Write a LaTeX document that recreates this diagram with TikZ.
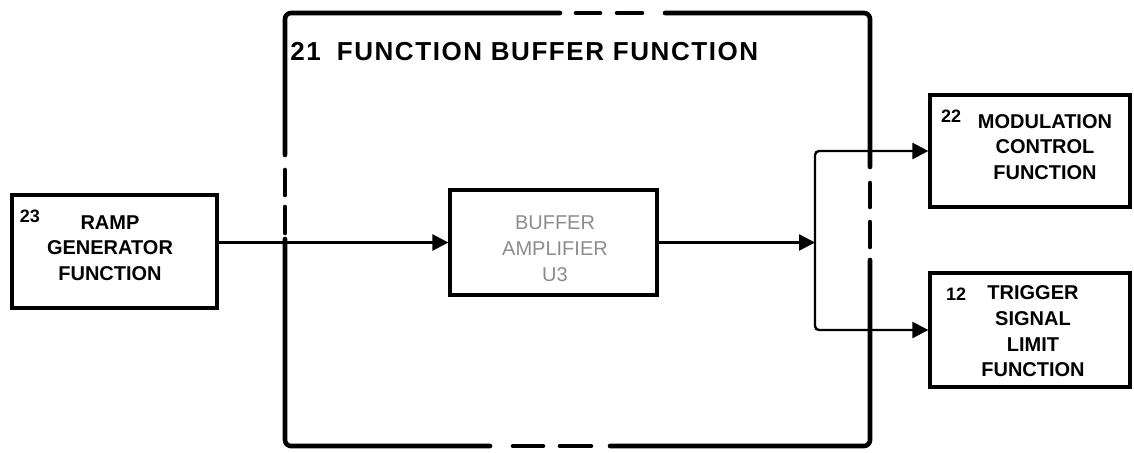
\documentclass[tikz,border=0pt]{standalone}
\usepackage{fontspec}
\setmainfont{Liberation Sans}
\usetikzlibrary{arrows.meta,positioning}
\tikzset{
  block/.style={draw=black, line width=1.6pt, inner sep=0pt},
  blocktext/.style={align=center, inner sep=0pt, font=\bfseries\fontsize{10}{12.8}\selectfont},
  tag/.style={inner sep=0pt, font=\bfseries\fontsize{9}{10}\selectfont},
  conn/.style={line width=1.2pt, -{Triangle[length=8pt,width=8pt]}},
  frame/.style={line width=2.3pt, line cap=round, line join=round, rounded corners=3pt}
}
\begin{document}
\begin{tikzpicture}[x=0.5pt,y=-0.5pt]
\useasboundingbox (0,0) rectangle (1134,452);
% function buffer frame, broken where the signals cross it
\coordinate (fnw) at (285,13);
\coordinate (fne) at (870,13);
\coordinate (fse) at (870,446);
\coordinate (fsw) at (285,446);
\draw[frame] (560,13) -- (fnw) -- (285,155);
\draw[frame] (285,170) -- (285,195) (285,207) -- (285,233);
\draw[frame] (285,239) -- (fsw) -- (490,446);
\draw[frame] (513,446) -- (543,446) (560,446) -- (591,446);
\draw[frame] (610,446) -- (fse) -- (870,260);
\draw[frame] (870,247) -- (870,222) (870,207) -- (870,183);
\draw[frame] (870,167) -- (fne) -- (665,13);
\draw[frame] (642,13) -- (617,13) (600,13) -- (576,13);
\node[anchor=west, inner sep=0pt, font=\bfseries\fontsize{13}{15}\selectfont\addfontfeature{LetterSpace=6}] (title) at (290,52) {21\hspace{8pt}FUNCTION BUFFER FUNCTION};

% blocks
\node[block, minimum width=102.5pt, minimum height=56.5pt] (ramp) at (114.5,251.5) {};
\node[blocktext] (ramptxt) at (110,248) {RAMP\\GENERATOR\\FUNCTION};
\node[tag] (n23) at (30,216) {23};

\node[block, minimum width=103.5pt, minimum height=52.5pt] (buf) at (553.5,242.5) {};
\node[blocktext, font=\fontsize{10}{13}\selectfont, text=black!45] (buftxt) at (555,249) {BUFFER\\AMPLIFIER\\U3};

\node[block, minimum width=100pt, minimum height=56pt] (mod) at (1030,151) {};
\node[blocktext] (modtxt) at (1045,147) {MODULATION\\CONTROL\\FUNCTION};
\node[tag] (n22) at (951,116) {22};

\node[block, minimum width=100pt, minimum height=57pt] (trig) at (1030,330) {};
\node[blocktext] (trigtxt) at (1033,331.5) {TRIGGER\\SIGNAL\\LIMIT\\FUNCTION};
\node[tag] (n12) at (956,294) {12};

% signal path
\coordinate (split) at (815,242.5);
\draw[conn] (ramp.east |- buf.west) -- (buf.west);
\draw[conn] (buf.east) -- (split);
\draw[line width=1.2pt, rounded corners=2pt, {Triangle[length=8pt,width=8pt]}-{Triangle[length=8pt,width=8pt]}]
  (mod.west) -- (split |- mod.west) -- (split |- trig.west) -- (trig.west);
\end{tikzpicture}
\end{document}
